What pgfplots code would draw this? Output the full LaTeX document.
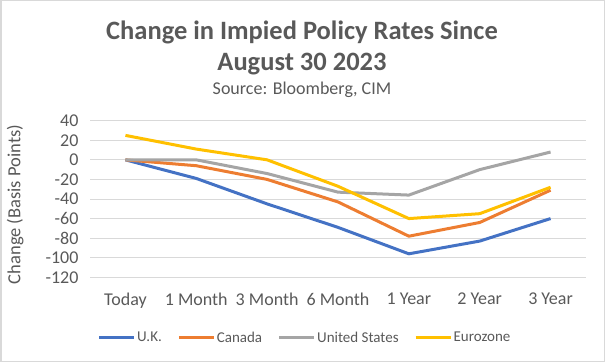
\documentclass[border=0pt]{standalone}
\usepackage{pgfplots}
\pgfplotsset{compat=1.18}
\usepackage{fontspec}
\setmainfont{Carlito}
\definecolor{ukblue}{HTML}{4472C4}
\definecolor{caorange}{HTML}{ED7D31}
\definecolor{usgray}{HTML}{A5A5A5}
\definecolor{eugold}{HTML}{FFC000}
\definecolor{txtgray}{HTML}{595959}
\definecolor{gridgray}{HTML}{D9D9D9}
\begin{document}
\begin{tikzpicture}[x=1pt,y=1pt]
\draw[color=gridgray, line width=1.5pt] (0.75,0.75) rectangle (604.25,361.25);
\node[font=\fontsize{26.5}{30}\selectfont\bfseries, text=txtgray] at (302,330) {Change in Impied Policy Rates Since};
\node[font=\fontsize{26.5}{30}\selectfont\bfseries, text=txtgray] at (302,298) {August 30 2023};
\node[font=\fontsize{18}{21}\selectfont, text=txtgray] at (302,272) {Source: Bloomberg, CIM};
\begin{axis}[
  at={(90pt,84.7pt)}, anchor=south west,
  scale only axis, width=496pt, height=156.6pt,
  xmin=-0.5, xmax=6.5, ymin=-120, ymax=40,
  ytick={-120,-100,...,40},
  xtick={0,...,6},
  xticklabels={Today,1 Month,3 Month,6 Month,1 Year,2 Year,3 Year},
  axis line style={draw=none},
  major tick length=0pt,
  ymajorgrids,
  grid style={gridgray, line width=1pt},
  tick label style={font=\fontsize{18}{21}\selectfont, text=txtgray},
  /pgf/number format/assume math mode=true,
  yticklabel style={xshift=-8pt},
  xticklabel style={yshift=-12pt},
  ylabel={Change (Basis Points)},
  ylabel style={at={(axis description cs:-0.151,0.465)}, anchor=center, rotate=0, font=\fontsize{18.5}{21}\selectfont, text=txtgray},
  legend columns=4,
  legend style={at={(axis description cs:0.433,-0.385)}, anchor=center, draw=none, fill=none,
    font=\fontsize{15}{18}\selectfont, text=txtgray,
    /tikz/every even column/.append style={column sep=14pt},
    nodes={inner sep=1.5pt}},
  legend image code/.code={\draw[#1, line width=3pt] (0pt,0pt) -- (35pt,0pt);},
  every axis plot/.append style={line width=3pt, line join=round, mark=none},
]
\addplot[ukblue] coordinates {(0,0) (1,-19) (2,-45) (3,-69) (4,-96) (5,-83) (6,-60)};
\addlegendentry{U.K.}
\addplot[caorange] coordinates {(0,0) (1,-6) (2,-20) (3,-43) (4,-78) (5,-64) (6,-31)};
\addlegendentry{Canada}
\addplot[usgray] coordinates {(0,0) (1,0) (2,-14) (3,-33) (4,-36) (5,-10) (6,8)};
\addlegendentry{United States}
\addplot[eugold] coordinates {(0,25) (1,11) (2,0) (3,-27) (4,-60) (5,-55) (6,-28)};
\addlegendentry{Eurozone}
\end{axis}
\end{tikzpicture}
\end{document}
